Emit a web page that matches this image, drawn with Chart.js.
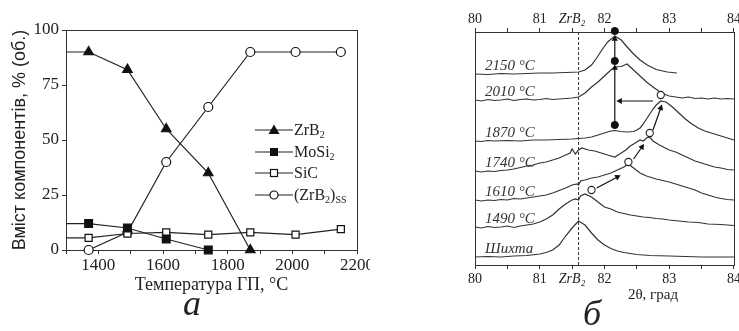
<!DOCTYPE html>
<html>
<head>
<meta charset="utf-8">
<title>ZrB2-MoSi2-SiC: phase content and (ZrB2) peak shift</title>
<script src="https://cdn.jsdelivr.net/npm/chart.js"></script>
<style>
    body { margin: 0; background: #fff; }
    .page { position: relative; width: 739px; height: 331px; overflow: hidden; font-family: "Liberation Serif", "Times New Roman", serif; color: #222; }
    .panel { position: absolute; top: 0; height: 331px; }
    #left { left: 0; width: 370px; }
    #right { left: 370px; width: 369px; }
    .legend { position: absolute; left: 255px; top: 119px; font-size: 16px; }
    .legend div { display: flex; align-items: center; height: 21.7px; white-space: nowrap; }
    .legend svg { margin-right: 1px; }
    sub { font-size: 10px; vertical-align: -3px; line-height: 0; }
    .caption { position: absolute; font-style: italic; font-size: 36px; line-height: 36px; transform: translateX(-50%); }
    .xtitle { position: absolute; font-size: 15px; transform: translate(-50%, -50%); white-space: nowrap; }
</style>
</head>
<body>
<div class="page">
    <div class="panel" id="left"><canvas id="phaseChart" width="370" height="331"></canvas></div>
    <div class="panel" id="right"><canvas id="xrdChart" width="369" height="331"></canvas></div>

    <!-- legend for panel a (line + marker, like the original) -->
    <div class="legend">
        <div><svg width="38" height="12"><line x1="0" y1="6" x2="38" y2="6" stroke="#222" stroke-width="1.2"/><polygon points="19,0.5 24.5,10 13.5,10" fill="#111"/></svg><span>ZrB<sub>2</sub></span></div>
        <div><svg width="38" height="12"><line x1="0" y1="6" x2="38" y2="6" stroke="#222" stroke-width="1.2"/><rect x="15" y="2" width="8" height="8" fill="#111"/></svg><span>MoSi<sub>2</sub></span></div>
        <div><svg width="38" height="12"><line x1="0" y1="6" x2="38" y2="6" stroke="#222" stroke-width="1.2"/><rect x="15.5" y="2.5" width="7" height="7" fill="#fff" stroke="#111" stroke-width="1.2"/></svg><span>SiC</span></div>
        <div><svg width="38" height="12"><line x1="0" y1="6" x2="38" y2="6" stroke="#222" stroke-width="1.2"/><circle cx="19" cy="6" r="4" fill="#fff" stroke="#111" stroke-width="1.2"/></svg><span>(ZrB<sub>2</sub>)<sub>SS</sub></span></div>
    </div>

    <div class="caption" style="left:192px; top:285px;">а</div>
    <div class="caption" style="left:592px; top:295px;">б</div>
    <div class="xtitle" style="left:653px; top:294px;">2θ, град</div>
</div>

<script>
    // ---- panel a: phase content vs hot-pressing temperature ----
    const temps = [1370, 1490, 1610, 1740, 1870, 2010, 2150];
    const zrb2 = [90, 82, 55, 35, 0];
    const mosi2 = [12, 10, 5, 0];
    const sic = [5.5, 7.5, 8, 7, 8, 7, 9.5];
    const zrb2ss = [0, 8, 40, 65, 90, 90, 90];
    const axisStart = 1300; // ZrB2, MoSi2 and SiC lines are drawn in from the y axis

    // ---- panel b: XRD patterns around the ZrB2 reflection, [2theta, intensity] ----
    const shikhta = [[80.0, 8], [80.2, 8.5], [80.4, 8], [80.6, 9], [80.8, 9.5], [81.0, 11], [81.1, 12.5], [81.2, 15], [81.3, 20], [81.4, 29], [81.5, 37], [81.6, 44], [81.7, 40], [81.8, 32], [81.9, 25], [82.0, 20], [82.1, 16.5], [82.2, 14], [82.3, 12.5], [82.4, 11.5], [82.5, 10.5], [82.7, 9.5], [83.0, 9], [83.5, 8], [84.0, 8]];
    const p1490 = [[80.0, 38], [80.1, 37], [80.2, 38.5], [80.3, 37.5], [80.4, 38], [80.5, 39], [80.6, 37.5], [80.7, 39], [80.8, 40], [80.9, 41], [81.0, 43], [81.1, 46], [81.2, 50], [81.3, 56], [81.4, 61], [81.5, 65], [81.55, 66], [81.6, 65], [81.63, 69], [81.7, 71], [81.8, 68], [81.9, 63], [82.0, 58], [82.1, 56], [82.2, 53], [82.3, 51.5], [82.4, 50], [82.5, 49], [82.6, 48], [82.7, 47.5], [82.8, 46.5], [82.9, 46], [83.0, 45], [83.15, 44], [83.3, 43], [83.45, 42.5], [83.6, 41], [83.8, 40.5], [84.0, 39.5]];
    const p1610 = [[80.0, 65], [80.1, 64], [80.2, 65], [80.3, 64.5], [80.4, 65.5], [80.5, 65], [80.6, 66.5], [80.7, 66], [80.8, 67], [80.9, 68], [81.0, 69], [81.1, 70], [81.2, 72], [81.3, 74.5], [81.4, 77], [81.5, 80], [81.58, 81], [81.6, 80], [81.63, 84], [81.7, 85], [81.8, 87], [81.9, 88], [82.0, 90], [82.1, 92], [82.2, 95], [82.3, 98], [82.37, 101], [82.45, 97], [82.55, 92], [82.65, 89], [82.8, 86], [82.9, 84.5], [83.0, 83], [83.1, 81], [83.2, 79], [83.3, 77], [83.4, 75], [83.5, 72], [83.6, 70], [83.7, 68], [83.8, 66.5], [83.9, 65.5], [84.0, 65]];
    const p1740 = [[80.0, 94], [80.1, 93], [80.2, 94], [80.3, 93.5], [80.4, 94.5], [80.5, 95], [80.6, 96], [80.7, 97.5], [80.8, 99], [80.9, 100], [81.0, 102], [81.1, 103], [81.2, 105], [81.3, 107], [81.4, 110], [81.47, 112], [81.5, 116], [81.55, 111], [81.6, 115], [81.65, 117], [81.75, 115], [81.85, 114], [81.95, 112], [82.05, 110], [82.16, 108], [82.26, 112], [82.33, 115], [82.4, 119], [82.5, 123], [82.55, 125], [82.6, 124], [82.65, 127], [82.7, 128], [82.75, 124], [82.85, 120], [83.0, 115], [83.1, 113], [83.2, 110], [83.3, 107], [83.4, 104], [83.5, 102], [83.6, 100], [83.7, 98], [83.8, 97], [83.9, 95.5], [84.0, 95]];
    const p1870 = [[80.0, 124], [80.1, 123.5], [80.2, 124.5], [80.3, 124], [80.5, 124.5], [80.7, 124], [80.9, 125], [81.1, 125], [81.3, 125.5], [81.5, 126], [81.7, 127], [81.8, 128], [81.9, 130], [82.0, 132], [82.1, 134], [82.16, 134.5], [82.25, 133.5], [82.35, 133], [82.45, 133.5], [82.5, 135], [82.55, 137], [82.6, 141], [82.65, 146], [82.7, 151], [82.75, 156], [82.8, 160], [82.87, 164], [82.95, 163], [83.05, 158], [83.15, 152], [83.25, 146], [83.35, 141], [83.45, 137], [83.55, 134], [83.65, 132], [83.75, 130], [83.85, 128], [84.0, 125]];
    const p2010 = [[80.0, 165], [80.1, 164], [80.2, 165.5], [80.3, 164.5], [80.4, 165], [80.5, 166], [80.6, 164.5], [80.7, 165.5], [80.8, 166], [80.9, 165], [81.0, 165.5], [81.1, 166.5], [81.2, 165.5], [81.3, 166], [81.4, 166.5], [81.5, 167], [81.6, 168], [81.7, 172], [81.8, 178], [81.9, 183], [82.0, 189], [82.1, 195], [82.16, 198], [82.26, 198.5], [82.35, 201], [82.45, 195], [82.55, 189], [82.65, 183], [82.75, 178], [82.88, 172], [83.0, 169], [83.1, 168], [83.2, 167], [83.3, 168], [83.4, 166.5], [83.5, 167], [83.6, 166], [83.7, 167], [83.8, 166], [83.9, 166.5], [84.0, 166]];
    const p2150 = [[80.0, 191], [80.2, 190.5], [80.4, 191.5], [80.6, 191], [80.8, 191.5], [81.0, 192], [81.2, 192], [81.4, 192.5], [81.6, 193], [81.7, 195], [81.8, 200], [81.88, 207], [81.96, 215], [82.05, 223], [82.16, 229], [82.26, 225], [82.35, 218], [82.45, 211], [82.55, 205], [82.66, 200], [82.8, 195.5], [82.97, 193], [83.12, 192]];
    const patterns = [shikhta, p1490, p1610, p1740, p1870, p2010, p2150];
    const patternNames = ['Шихта', '1490 °C', '1610 °C', '1740 °C', '1870 °C', '2010 °C', '2150 °C'];

    const zrb2Line = 81.6;
    const peakFilled = [[82.16, 234], [82.16, 204], [82.16, 140]];
    const peakOpen = [[81.8, 75], [82.37, 103], [82.7, 132], [82.87, 170]];
    const shiftArrows = [
        [[81.88, 77], [82.2, 88]],
        [[82.45, 106], [82.58, 118]],
        [[82.75, 135], [82.87, 157]],
        [[82.75, 164], [82.24, 164]],
        [[82.16, 140], [82.16, 197]],
        [[82.16, 204], [82.16, 226]]
    ];

    const ink = '#222';
    const serif = '"Liberation Serif", "Times New Roman", serif';

    // box around the plot area
    const framePlugin = {
        id: 'frame',
        beforeDatasetsDraw(chart) {
            const {ctx, chartArea: a} = chart;
            ctx.save();
            ctx.strokeStyle = '#333';
            ctx.lineWidth = 1;
            ctx.strokeRect(Math.round(a.left) + 0.5, Math.round(a.top) + 0.5, Math.round(a.width), Math.round(a.height));
            ctx.restore();
        }
    };

    const toXY = (vals, lead) => {
        const pts = vals.map((v, i) => ({x: temps[i], y: v}));
        if (lead) pts.unshift({x: axisStart, y: vals[0], lead: true});
        return pts;
    };

    const series = (label, data, style, fill, radius) => ({
        label: label,
        data: data,
        borderColor: ink,
        borderWidth: 1.2,
        pointStyle: style,
        pointBackgroundColor: fill,
        pointBorderColor: '#111',
        pointBorderWidth: 1.2,
        pointRadius: ctx => (ctx.raw && ctx.raw.lead) ? 0 : radius,
        clip: false
    });

    new Chart(document.getElementById('phaseChart'), {
        type: 'line',
        data: {
            datasets: [
                series('ZrB2', toXY(zrb2, true), 'triangle', '#111', 5.5),
                series('MoSi2', toXY(mosi2, true), 'rect', '#111', 5.5),
                series('SiC', toXY(sic, true), 'rect', '#fff', 5),
                series('(ZrB2)ss', toXY(zrb2ss, false), 'circle', '#fff', 4.5)
            ]
        },
        options: {
            responsive: false,
            animation: false,
            events: [],
            layout: {padding: {top: 30, right: 13, bottom: 35, left: 0}},
            elements: {line: {tension: 0}},
            plugins: {legend: {display: false}, tooltip: {enabled: false}},
            scales: {
                x: {
                    type: 'linear', min: 1300, max: 2200,
                    border: {display: false},
                    grid: {drawOnChartArea: false, tickLength: 4, color: '#333'},
                    ticks: {
                        stepSize: 100, autoSkip: false, maxRotation: 0, padding: 1,
                        color: ink, font: {family: serif, size: 17},
                        callback: v => v % 200 === 0 ? String(v) : ''
                    },
                    title: {display: true, text: 'Температура ГП, °C', color: ink, font: {family: serif, size: 18}, padding: 0},
                    afterFit(s) { s.height = 46; s.paddingLeft = 0; s.paddingRight = 0; }
                },
                y: {
                    min: 0, max: 100,
                    border: {display: false},
                    grid: {drawOnChartArea: false, tickLength: 4, color: '#333'},
                    ticks: {stepSize: 25, padding: 3, color: ink, font: {family: serif, size: 17}},
                    title: {display: true, text: 'Вміст компонентів, % (об.)', color: ink,
                        font: {family: '"Liberation Sans", Arial, sans-serif', size: 18}, padding: {top: 9, bottom: 0}},
                    afterFit(s) { s.width = 66; }
                }
            }
        },
        plugins: [framePlugin]
    });

    // ---- panel b ----
    const pairs = arr => arr.map(p => ({x: p[0], y: p[1]}));

    const labelPlugin = {
        id: 'patternLabels',
        afterDatasetsDraw(chart) {
            const {ctx, chartArea, scales: {y}} = chart;
            ctx.save();
            ctx.font = 'italic 15px ' + serif;
            ctx.fillStyle = '#333';
            ctx.textBaseline = 'middle';
            patterns.forEach((p, i) => {
                ctx.fillText(patternNames[i], chartArea.left + 10, y.getPixelForValue(p[0][1]) - 8);
            });
            ctx.restore();
        }
    };

    const arrowHead = ctx => {
        const pts = ctx.dataset.data;
        const sx = ctx.chart.scales.x, sy = ctx.chart.scales.y;
        const dx = sx.getPixelForValue(pts[1].x) - sx.getPixelForValue(pts[0].x);
        const dy = sy.getPixelForValue(pts[1].y) - sy.getPixelForValue(pts[0].y);
        return Math.atan2(dx, -dy) * 180 / Math.PI;
    };

    const xrdSets = [];
    xrdSets.push({
        data: [{x: zrb2Line, y: 0}, {x: zrb2Line, y: 233}],
        borderColor: '#333', borderWidth: 1, borderDash: [3, 2], pointRadius: 0, order: 5
    });
    patterns.forEach(p => xrdSets.push({
        data: pairs(p), borderColor: '#333', borderWidth: 1.2, pointRadius: 0, order: 4
    }));
    shiftArrows.forEach(a => xrdSets.push({
        data: pairs(a), borderColor: '#111', borderWidth: 1.2,
        pointStyle: 'triangle', pointBackgroundColor: '#111', pointBorderColor: '#111', pointBorderWidth: 0,
        pointRadius: [0, 3.6], pointRotation: arrowHead, clip: false, order: 2
    }));
    xrdSets.push({
        data: pairs(peakFilled), showLine: false, pointStyle: 'circle', pointRadius: 3.6,
        pointBackgroundColor: '#111', pointBorderColor: '#111', clip: false, order: 1
    });
    xrdSets.push({
        data: pairs(peakOpen), showLine: false, pointStyle: 'circle', pointRadius: 3.6,
        pointBackgroundColor: '#fff', pointBorderColor: '#222', pointBorderWidth: 1.1, clip: false, order: 1
    });

    const thetaTicks = {
        stepSize: 0.5, autoSkip: false, maxRotation: 0, color: ink,
        font: ctx => ({family: serif, size: 14, style: (ctx.tick && ctx.tick.value === 81.5) ? 'italic' : 'normal'}),
        callback: v => v === 81.5 ? 'ZrB₂' : (Number.isInteger(v) ? String(v) : '')
    };

    new Chart(document.getElementById('xrdChart'), {
        type: 'line',
        data: {datasets: xrdSets},
        options: {
            responsive: false,
            animation: false,
            events: [],
            layout: {padding: {top: 0, right: 2, bottom: 44, left: 105}},
            elements: {line: {tension: 0}},
            plugins: {legend: {display: false}, tooltip: {enabled: false}},
            scales: {
                x: {
                    type: 'linear', min: 80, max: 84,
                    border: {display: false},
                    grid: {drawOnChartArea: false, tickLength: 4, color: '#333'},
                    ticks: Object.assign({padding: 2}, thetaTicks),
                    afterFit(s) { s.height = 22; s.paddingLeft = 0; s.paddingRight = 0; }
                },
                xTop: {
                    type: 'linear', position: 'top', min: 80, max: 84,
                    border: {display: false},
                    grid: {drawOnChartArea: false, tickLength: 4, color: '#333'},
                    ticks: Object.assign({padding: 0}, thetaTicks),
                    afterFit(s) { s.height = 32; s.paddingLeft = 0; s.paddingRight = 0; }
                },
                y: {display: false, min: 0, max: 233}
            }
        },
        plugins: [framePlugin, labelPlugin]
    });
</script>
</body>
</html>
